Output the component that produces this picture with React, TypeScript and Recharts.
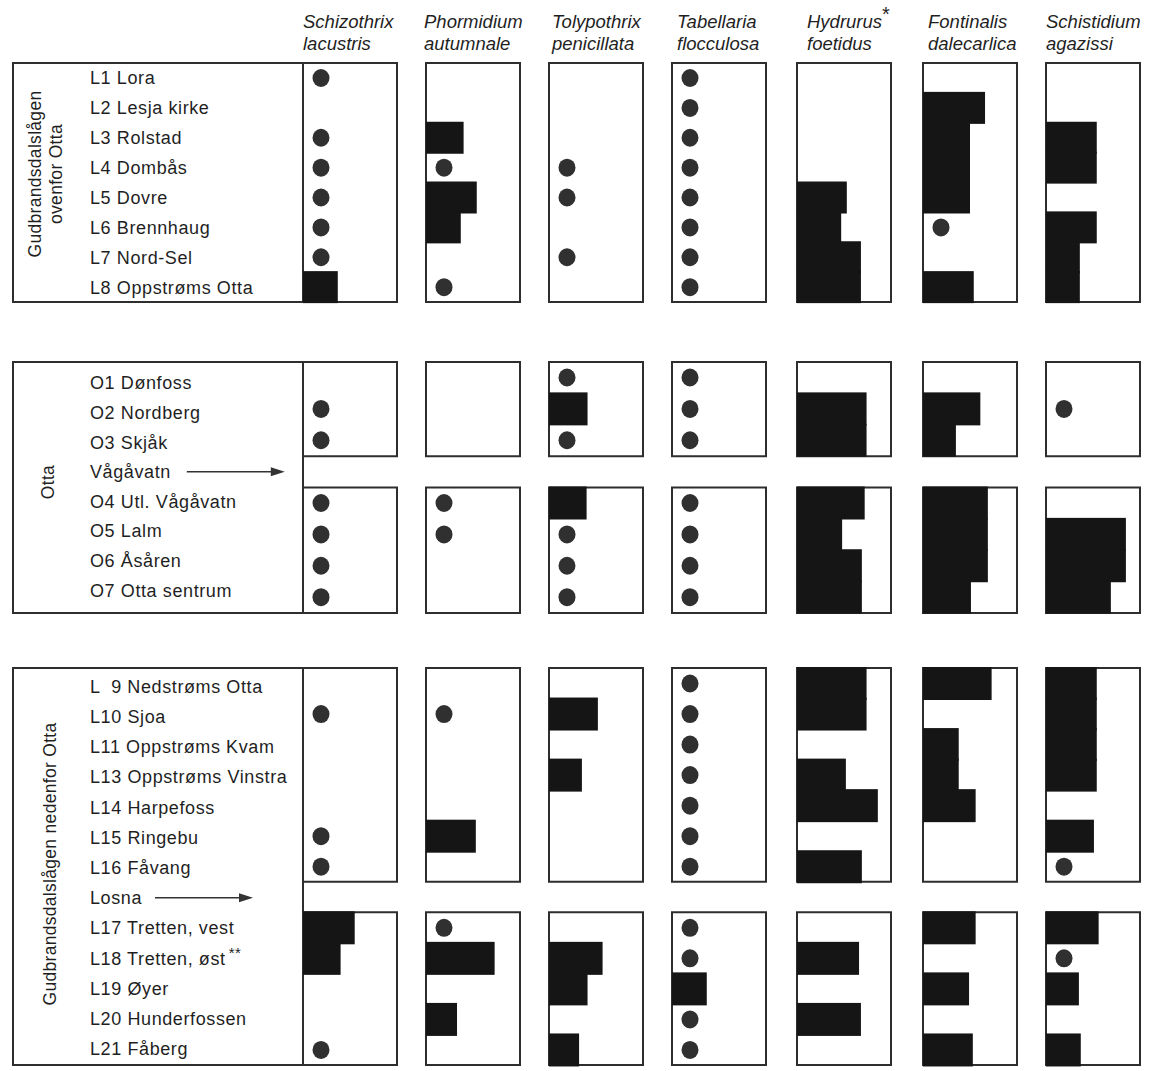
import React from 'react';
import { ComposedChart, Bar, XAxis, YAxis, ReferenceArea } from 'recharts';

// stations, top to bottom, per river section (lakes are the rows with an arrow)
const upperStations = [
  'L1 Lora',
  'L2 Lesja kirke',
  'L3 Rolstad',
  'L4 Dombås',
  'L5 Dovre',
  'L6 Brennhaug',
  'L7 Nord-Sel',
  'L8 Oppstrøms Otta',
];
const ottaStations = [
  'O1 Dønfoss',
  'O2 Nordberg',
  'O3 Skjåk',
  'Vågåvatn',
  'O4 Utl. Vågåvatn',
  'O5 Lalm',
  'O6 Åsåren',
  'O7 Otta sentrum',
];
const lowerStations = [
  'L  9 Nedstrøms Otta',
  'L10 Sjoa',
  'L11 Oppstrøms Kvam',
  'L13 Oppstrøms Vinstra',
  'L14 Harpefoss',
  'L15 Ringebu',
  'L16 Fåvang',
  'Losna',
  'L17 Tretten, vest',
  'L18 Tretten, øst**',
  'L19 Øyer',
  'L20 Hunderfossen',
  'L21 Fåberg',
];
const lakes = ['Vågåvatn', 'Losna'];

const speciesNames = [
  ['Schizothrix', 'lacustris'],
  ['Phormidium', 'autumnale'],
  ['Tolypothrix', 'penicillata'],
  ['Tabellaria', 'flocculosa'],
  ['Hydrurus*', 'foetidus'],
  ['Fontinalis', 'dalecarlica'],
  ['Schistidium', 'agazissi'],
];

// cover on a 0–10 scale (10 = full box); P = present, scattered (dot); null = lake row
const P = 1;
const schizothrix = [
  P, 0, P, P, P, P, P, 3.7,
  0, P, P, null, P, P, P, P,
  0, P, 0, 0, 0, P, P, null, 5.5, 4.0, 0, 0, P,
];
const phormidium = [
  0, 0, 4.0, P, 5.4, 3.7, 0, P,
  0, 0, 0, null, P, P, 0, 0,
  0, P, 0, 0, 0, 5.3, 0, null, P, 7.3, 0, 3.3, 0,
];
const tolypothrix = [
  0, 0, 0, P, P, 0, P, 0,
  P, 4.1, P, null, 4.0, P, P, P,
  0, 5.2, 0, 3.5, 0, 0, 0, null, 0, 5.7, 4.1, 0, 3.2,
];
const tabellaria = [
  P, P, P, P, P, P, P, P,
  P, P, P, null, P, P, P, P,
  P, P, P, P, P, P, P, null, P, P, 3.7, P, P,
];
const hydrurus = [
  0, 0, 0, 0, 5.3, 4.7, 6.8, 6.8,
  0, 7.4, 7.4, null, 7.2, 4.8, 6.9, 6.9,
  7.4, 7.4, 0, 5.2, 8.6, 0, 6.9, null, 0, 6.6, 0, 6.8, 0,
];
const fontinalis = [
  0, 6.6, 5.0, 5.0, 5.0, P, 0, 5.4,
  0, 6.1, 3.5, null, 6.9, 6.9, 6.9, 5.1,
  7.3, 0, 3.8, 3.8, 5.6, 0, 0, null, 5.6, 0, 4.9, 0, 5.3,
];
const schistidium = [
  0, 0, 5.4, 5.4, 0, 5.4, 3.6, 3.6,
  0, P, 0, null, 0, 8.5, 8.5, 6.9,
  5.4, 5.4, 5.4, 5.4, 0, 5.1, P, null, 5.6, P, 3.5, 0, 3.7,
];
const speciesValues = [schizothrix, phormidium, tolypothrix, tabellaria, hydrurus, fontinalis, schistidium];

const FONT = '"Liberation Sans", Arial, sans-serif';
const INK = '#1f1f1f';
const BOX_W = 94;
const columnLeft = [303, 426, 549, 672, 797, 923, 1046];
const headerIndent = [0, -2, 3, 5, 10, 5, 0];
const LABEL_X = 77;
const ARROW_LEN = 98;

const sections = [
  { stations: upperStations, title: ['Gudbrandsdalslågen', 'ovenfor Otta'], top: 63, height: 239, pad: [0, 0], titleAt: [46, 174] },
  { stations: ottaStations, title: ['Otta'], top: 362, height: 251, pad: [6, 8], titleAt: [48, 482] },
  { stations: lowerStations, title: ['Gudbrandsdalslågen nedenfor Otta'], top: 668, height: 397, pad: [3, 1], titleAt: [50, 864] },
];

const runsOf = (stations: string[]) => {
  const runs: string[][] = [];
  let cur: string[] = [];
  stations.forEach((s) => {
    if (lakes.includes(s)) {
      if (cur.length) runs.push(cur);
      cur = [];
    } else cur.push(s);
  });
  if (cur.length) runs.push(cur);
  return runs;
};

const CoverMark = (props: any) => {
  const { x, y, width, height, payload } = props;
  const v = payload ? payload.cover : null;
  if (v == null || v === 0) return <g />;
  if (v === P) return <ellipse cx={x + 18} cy={y + height / 2} rx={8.5} ry={9} fill="#303030" />;
  // bar heights are rounded by the library; overlap a little so stacked rows join without a seam
  return <rect x={x} y={y - 1} width={width} height={height + 2} fill="#151515" />;
};

const StationTick = (props: any) => {
  const { y, payload } = props;
  const name: string = payload.value;
  const stars = name.endsWith('**');
  const text = stars ? name.slice(0, -2) : name;
  const isLake = lakes.includes(name);
  const a0 = LABEL_X + text.length * 10.6 + 12;
  const a1 = a0 + ARROW_LEN;
  return (
    <g>
      <text
        x={LABEL_X}
        y={y}
        dy="0.36em"
        textAnchor="start"
        fontSize={18}
        fontFamily={FONT}
        fill={INK}
        style={{ whiteSpace: 'pre', letterSpacing: '0.6px' }}
      >
        {text}
        {stars && (
          <tspan dy={-7} fontSize={15} dx={3}>
            **
          </tspan>
        )}
      </text>
      {isLake && (
        <g>
          <line x1={a0} y1={y} x2={a1 - 10} y2={y} stroke="#333" strokeWidth={1.6} />
          <polygon points={`${a1},${y} ${a1 - 14},${y - 4.5} ${a1 - 14},${y + 4.5}`} fill="#333" />
        </g>
      )}
    </g>
  );
};

const SpeciesPanel = ({ stations, values, left, top, height }: any) => {
  const data = stations.map((s: string, i: number) => ({ station: s, cover: values[i] }));
  const runs = runsOf(stations);
  return (
    <div style={{ position: 'absolute', left: left - 2, top: top - 2 }}>
      <ComposedChart
        width={BOX_W + 4}
        height={height + 4}
        data={data}
        layout="vertical"
        margin={{ top: 2, right: 2, bottom: 2, left: 2 }}
        barCategoryGap={0}
      >
        <XAxis type="number" domain={[0, 10]} hide />
        <YAxis type="category" dataKey="station" hide />
        <Bar dataKey="cover" isAnimationActive={false} shape={CoverMark} />
        {runs.map((r) => (
          <ReferenceArea
            key={r[0]}
            x1={0}
            x2={10}
            y1={r[0]}
            y2={r[r.length - 1]}
            fill="none"
            stroke="#2e2e2e"
            strokeWidth={2}
            ifOverflow="visible"
          />
        ))}
      </ComposedChart>
    </div>
  );
};

const LabelPanel = ({ stations, top, height, pad }: any) => {
  const data = stations.map((s: string) => ({ station: s, blank: null }));
  return (
    <div style={{ position: 'absolute', left: 13, top }}>
      <ComposedChart
        width={290}
        height={height}
        data={data}
        layout="vertical"
        margin={{ top: pad[0], right: 0, bottom: pad[1], left: 0 }}
        barCategoryGap={0}
      >
        <XAxis type="number" domain={[0, 1]} hide />
        <YAxis
          type="category"
          dataKey="station"
          scale="band"
          mirror
          width={1}
          axisLine={false}
          tickLine={false}
          interval={0}
          tick={<StationTick />}
        />
        <Bar dataKey="blank" isAnimationActive={false} />
      </ComposedChart>
    </div>
  );
};

export default function App() {
  let offset = 0;
  const blocks = sections.map((sec) => {
    const start = offset;
    offset += sec.stations.length;
    return { ...sec, start };
  });

  return (
    <div
      style={{
        position: 'relative',
        width: 1157,
        height: 1071,
        background: '#fff',
        fontFamily: FONT,
        color: INK,
        overflow: 'hidden',
      }}
    >
      <style>{'body{margin:0}'}</style>

      {speciesNames.map((nm, i) => (
        <div
          key={nm[0]}
          style={{
            position: 'absolute',
            left: columnLeft[i] + headerIndent[i],
            top: 11,
            fontStyle: 'italic',
            fontSize: 18.5,
            lineHeight: '22px',
            whiteSpace: 'nowrap',
          }}
        >
          {nm[0].endsWith('*') ? (
            <>
              {nm[0].slice(0, -1)}
              <span style={{ position: 'relative', top: -7, fontStyle: 'normal', fontSize: 20, lineHeight: 0 }}>*</span>
            </>
          ) : (
            nm[0]
          )}
          <br />
          {nm[1]}
        </div>
      ))}

      {blocks.map((b) => (
        <React.Fragment key={b.top}>
          <div
            style={{
              position: 'absolute',
              left: 12,
              top: b.top - 1,
              width: 292,
              height: b.height + 2,
              border: '2px solid #2e2e2e',
              boxSizing: 'border-box',
            }}
          />
          <div
            style={{
              position: 'absolute',
              left: b.titleAt[0],
              top: b.titleAt[1],
              transform: 'translate(-50%, -50%) rotate(-90deg)',
              textAlign: 'center',
              whiteSpace: 'nowrap',
              fontSize: 17.5,
              lineHeight: '21px',
              letterSpacing: '0.3px',
            }}
          >
            {b.title.map((t) => (
              <div key={t}>{t}</div>
            ))}
          </div>
          <LabelPanel stations={b.stations} top={b.top} height={b.height} pad={b.pad} />
          {speciesValues.map((vals, i) => (
            <SpeciesPanel
              key={speciesNames[i][0]}
              stations={b.stations}
              values={vals.slice(b.start, b.start + b.stations.length)}
              left={columnLeft[i]}
              top={b.top}
              height={b.height}
            />
          ))}
        </React.Fragment>
      ))}
    </div>
  );
}
